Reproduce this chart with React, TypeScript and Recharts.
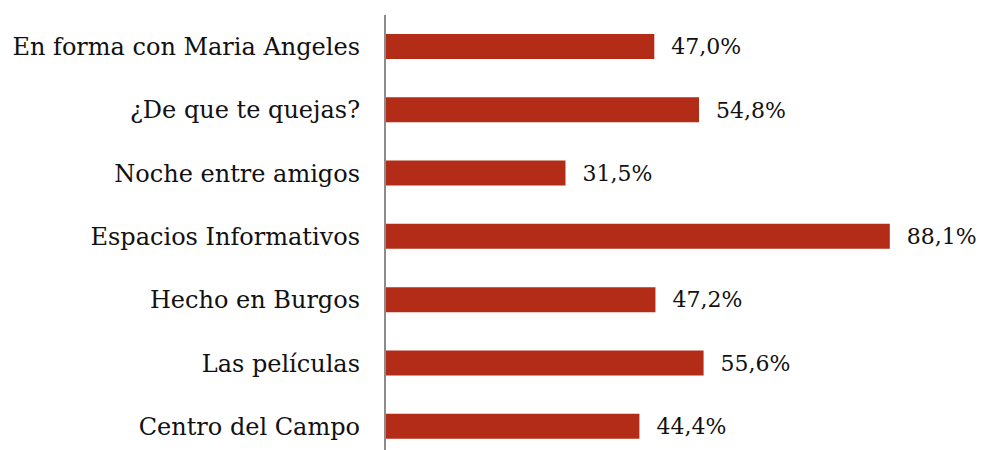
import React from 'react';
import { BarChart, Bar, XAxis, YAxis, LabelList } from 'recharts';

const categories = [
  'En forma con Maria Angeles',
  '¿De que te quejas?',
  'Noche entre amigos',
  'Espacios Informativos',
  'Hecho en Burgos',
  'Las películas',
  'Centro del Campo',
];
const values = [47.0, 54.8, 31.5, 88.1, 47.2, 55.6, 44.4];

const data = categories.map((name, i) => ({ name, value: values[i] }));

const FONT = '"DejaVu Serif", serif';

const fmt = (v: any) => Number(v).toFixed(1).replace('.', ',') + '%';

export default function App() {
  return (
    <div
      style={{
        position: 'fixed',
        left: 0,
        top: 0,
        width: 982,
        height: 450,
        overflow: 'hidden',
        background: '#ffffff',
      }}
    >
      <BarChart
        width={982}
        height={470}
        data={data}
        layout="vertical"
        margin={{ top: 15, right: 24, bottom: 12, left: 0 }}
        barCategoryGap={0}
      >
        <XAxis type="number" domain={[0, 100]} hide />
        <YAxis
          type="category"
          dataKey="name"
          width={385}
          tickSize={0}
          tickMargin={25}
          tickLine={false}
          axisLine={{ stroke: '#8c8c8c', strokeWidth: 2 }}
          tick={{ fill: '#111111', fontSize: 24, fontFamily: FONT }}
          interval={0}
        />
        <Bar dataKey="value" fill="#b22c17" barSize={25} isAnimationActive={false}>
          <LabelList
            dataKey="value"
            position="right"
            offset={17}
            formatter={fmt}
            style={{ fill: '#111111', fontSize: 22, fontFamily: FONT }}
          />
        </Bar>
      </BarChart>
    </div>
  );
}
